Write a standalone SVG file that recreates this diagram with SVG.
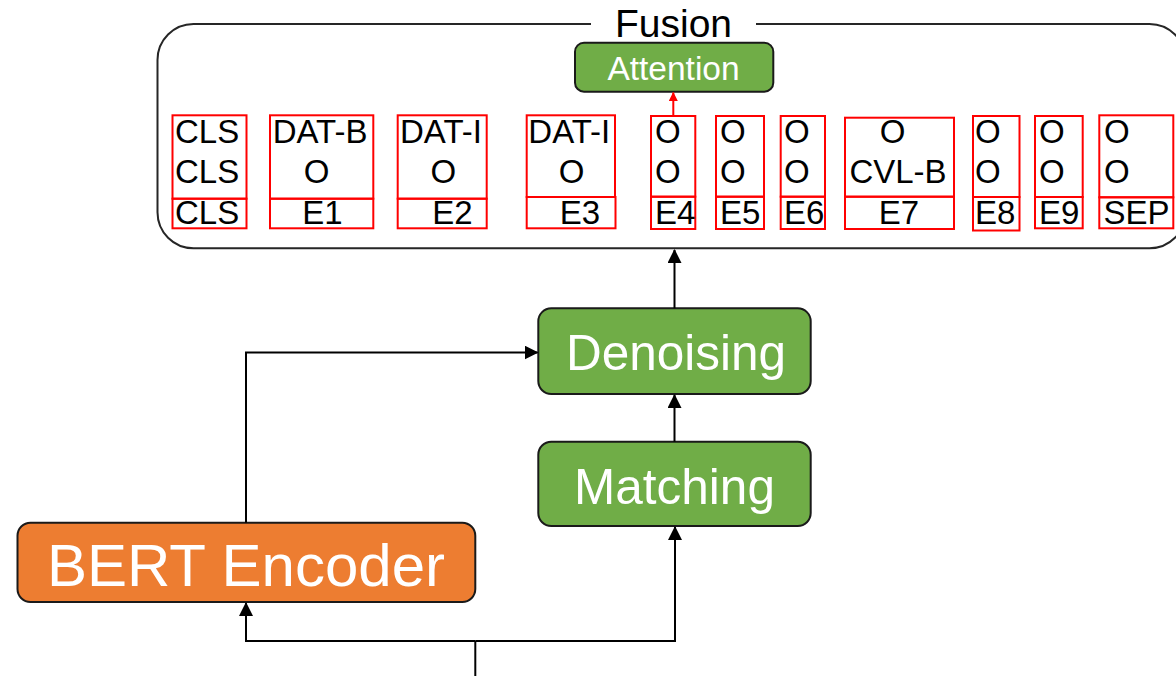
<svg xmlns="http://www.w3.org/2000/svg" width="1176" height="676" viewBox="0 0 1176 676">
  <style>
    .tok { font-family: "Liberation Sans", Arial, sans-serif; font-size: 33px; fill: #000; }
    .mid { text-anchor: middle; }
    .cell { fill: none; stroke: #ff0000; stroke-width: 2; }
    .green { fill: #70ad47; stroke: #1a1a1a; stroke-width: 2; }
    .orange { fill: #ed7d31; stroke: #1a1a1a; stroke-width: 2; }
    .label { font-family: "Liberation Sans", Arial, sans-serif; fill: #fff; text-anchor: middle; }
    .wire { fill: none; stroke: #000; stroke-width: 2; }
  </style>
  <defs>
    <marker id="arrow" markerUnits="userSpaceOnUse" markerWidth="14" markerHeight="14" viewBox="0 0 14 14" refX="13" refY="7" orient="auto">
      <path d="M0,0 L14,7 L0,14 z" fill="#000"/>
    </marker>
    <marker id="arrow-red" markerUnits="userSpaceOnUse" markerWidth="9" markerHeight="9" viewBox="0 0 9 9" refX="8.5" refY="4.5" orient="auto">
      <path d="M0,0 L9,4.5 L0,9 z" fill="#ff0000"/>
    </marker>
  </defs>

  <rect width="1176" height="676" fill="#fff"/>

  <!-- Fusion container -->
  <g id="fusion">
    <rect x="157.5" y="24" width="1028" height="224.3" rx="36" ry="36" fill="none" stroke="#262626" stroke-width="2"/>
    <rect x="591" y="14" width="165" height="20" fill="#fff"/>
    <text x="673.5" y="36.5" font-family="'Liberation Sans', Arial, sans-serif" font-size="39" text-anchor="middle" fill="#000">Fusion</text>
  </g>

  <!-- Attention -->
  <g id="attention">
    <rect class="green" x="575" y="42.7" width="198.3" height="49" rx="9" ry="9"/>
    <text class="label" x="673.5" y="80" font-size="33.5">Attention</text>
  </g>

  <!-- Token columns: two label rows above, token row below -->
  <g id="tok-cls">
    <rect class="cell" x="172.5" y="115.3" width="74" height="83.4"/>
    <rect class="cell" x="172.5" y="198.7" width="74" height="29.6"/>
    <text class="tok" x="175" y="143">CLS</text>
    <text class="tok" x="175" y="183">CLS</text>
    <text class="tok" x="175" y="224">CLS</text>
  </g>
  <g id="tok-e1">
    <rect class="cell" x="270" y="115.3" width="103.3" height="83.4"/>
    <rect class="cell" x="270" y="198.7" width="103.3" height="29.6"/>
    <text class="tok" x="272.7" y="143">DAT-B</text>
    <text class="tok mid" x="316.7" y="183">O</text>
    <text class="tok mid" x="322.5" y="224">E1</text>
  </g>
  <g id="tok-e2">
    <rect class="cell" x="397.7" y="115.3" width="89" height="83.4"/>
    <rect class="cell" x="397.7" y="198.7" width="89" height="29.6"/>
    <text class="tok" x="400" y="143">DAT-I</text>
    <text class="tok mid" x="443.3" y="183">O</text>
    <text class="tok mid" x="452.5" y="224">E2</text>
  </g>
  <g id="tok-e3">
    <rect class="cell" x="526.7" y="115.3" width="88.3" height="81.7"/>
    <rect class="cell" x="526.7" y="197" width="88.8" height="31.3"/>
    <text class="tok" x="528.3" y="143">DAT-I</text>
    <text class="tok mid" x="571.7" y="183">O</text>
    <text class="tok mid" x="580" y="224">E3</text>
  </g>
  <g id="tok-e4">
    <rect class="cell" x="651" y="116" width="44.3" height="80.7"/>
    <rect class="cell" x="651" y="196.7" width="44.3" height="32.3"/>
    <text class="tok" x="655" y="143">O</text>
    <text class="tok" x="655" y="183">O</text>
    <text class="tok" x="655" y="224">E4</text>
  </g>
  <g id="tok-e5">
    <rect class="cell" x="716" y="116" width="48" height="80.7"/>
    <rect class="cell" x="716" y="196.7" width="48" height="32.3"/>
    <text class="tok" x="720" y="143">O</text>
    <text class="tok" x="720" y="183">O</text>
    <text class="tok" x="720" y="224">E5</text>
  </g>
  <g id="tok-e6">
    <rect class="cell" x="780.7" y="116" width="44.3" height="80.7"/>
    <rect class="cell" x="780.7" y="196.7" width="44.3" height="32.3"/>
    <text class="tok" x="784" y="143">O</text>
    <text class="tok" x="784" y="183">O</text>
    <text class="tok" x="784" y="224">E6</text>
  </g>
  <g id="tok-e7">
    <rect class="cell" x="845" y="117.7" width="109" height="79"/>
    <rect class="cell" x="845" y="196.7" width="109" height="32.3"/>
    <text class="tok mid" x="892.5" y="143">O</text>
    <text class="tok mid" x="898" y="183">CVL-B</text>
    <text class="tok mid" x="899" y="224">E7</text>
  </g>
  <g id="tok-e8">
    <rect class="cell" x="973" y="116" width="46.5" height="81"/>
    <rect class="cell" x="973" y="197" width="46.5" height="33.5"/>
    <text class="tok" x="975" y="143">O</text>
    <text class="tok" x="975" y="183">O</text>
    <text class="tok" x="975" y="224">E8</text>
  </g>
  <g id="tok-e9">
    <rect class="cell" x="1035" y="116" width="47.7" height="81"/>
    <rect class="cell" x="1035" y="197" width="47.7" height="31.3"/>
    <text class="tok" x="1039" y="143">O</text>
    <text class="tok" x="1039" y="183">O</text>
    <text class="tok" x="1039" y="224">E9</text>
  </g>
  <g id="tok-sep">
    <rect class="cell" x="1099.3" y="115.3" width="74" height="82"/>
    <rect class="cell" x="1099.3" y="197.3" width="74" height="31"/>
    <text class="tok" x="1104" y="143">O</text>
    <text class="tok" x="1104" y="183">O</text>
    <text class="tok" x="1103.5" y="224">SEP</text>
  </g>

  <!-- Processing blocks -->
  <g id="denoising">
    <rect class="green" x="538.3" y="308.3" width="272.4" height="85.7" rx="13" ry="13"/>
    <text class="label" x="676" y="370" font-size="49.5">Denoising</text>
  </g>
  <g id="matching">
    <rect class="green" x="538.3" y="441.7" width="272.4" height="84.3" rx="13" ry="13"/>
    <text class="label" x="674.5" y="503.5" font-size="49.5">Matching</text>
  </g>
  <g id="bert-encoder">
    <rect class="orange" x="17.5" y="522.7" width="457.8" height="79.3" rx="13" ry="13"/>
    <text class="label" x="246" y="586" font-size="60">BERT Encoder</text>
  </g>

  <!-- Connectors -->
  <g id="connectors">
    <line x1="673.3" y1="116" x2="673.3" y2="92.5" stroke="#ff0000" stroke-width="2" marker-end="url(#arrow-red)"/>
    <line class="wire" x1="674.5" y1="308.3" x2="674.5" y2="250" marker-end="url(#arrow)"/>
    <line class="wire" x1="674.5" y1="441.7" x2="674.5" y2="395" marker-end="url(#arrow)"/>
    <polyline class="wire" points="246,522.7 246,352.5 537.5,352.5" marker-end="url(#arrow)"/>
    <line class="wire" x1="475.3" y1="676" x2="475.3" y2="641"/>
    <polyline class="wire" points="475.3,641 246,641 246,603" marker-end="url(#arrow)"/>
    <polyline class="wire" points="475.3,641 675,641 675,527" marker-end="url(#arrow)"/>
  </g>
</svg>
